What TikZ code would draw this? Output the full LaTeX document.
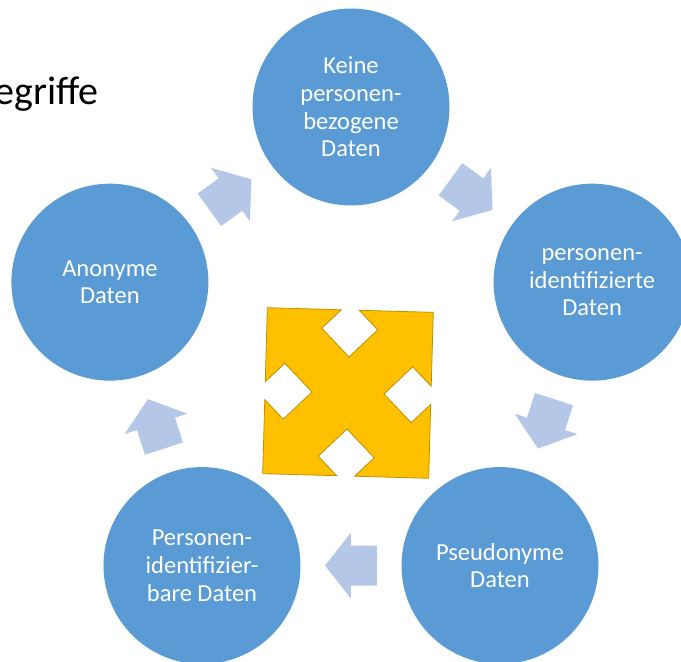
\documentclass[tikz,border=0pt]{standalone}
\usepackage{fontspec}
\setmainfont{Carlito}
\usetikzlibrary{calc}
\definecolor{cycBlue}{HTML}{5B9BD5}
\definecolor{cycArrow}{HTML}{B4C7E7}
\definecolor{crossGold}{HTML}{FFC000}
\definecolor{crossEdge}{HTML}{BF9000}
\tikzset{
  stagecircle/.style={circle, fill=cycBlue, minimum size=197pt, inner sep=0pt, text=white, align=center, font=\fontsize{24.5}{27.7}\selectfont},
  cyclearr/.pic={\fill[cycArrow] (-26,-20) -- (0,-20) -- (0,-33) -- (26,0) -- (0,33) -- (0,20) -- (-26,20) -- cycle;},
}

\begin{document}
\begin{tikzpicture}[x=1pt, y=1pt]
    \useasboundingbox (-351,-301.5) rectangle (330,360.5);
    \clip (-351,-301.5) rectangle (330,360.5);
    \node[anchor=base east, inner sep=0pt, font=\fontsize{40}{48}\selectfont] (title) at (-252,255.5) {Begriffe};
    \node[stagecircle] (top) at (90:253.5) {Keine\\personen-\\bezogene\\Daten};
    \node[stagecircle] (rgt) at (18:253.5) {personen-\\identifizierte\\Daten};
    \node[stagecircle] (brt) at (-54:253.5) {Pseudonyme\\Daten};
    \node[stagecircle] (blt) at (-126:253.5) {Personen-\\identifizier-\\bare Daten};
    \node[stagecircle] (lft) at (162:253.5) {Anonyme\\Daten};
    % block arrows between the circles
    \foreach \from/\to/\ang in {lft/top/36, top/rgt/-36, rgt/brt/-108, brt/blt/180, blt/lft/108}
      \pic[rotate=\ang] at ($(\from)!0.5!(\to)$) {cyclearr};
    % yellow cross in the middle
    \begin{scope}[shift={(-3,-32.5)}, rotate=-1.6]
      \filldraw[fill=crossGold, draw=crossEdge, line width=0.8pt, line join=miter]
        (-83,83) -- (-9,83) -- (-28,64) -- (0,36) -- (28,64) -- (9,83) -- (83,83)
        -- (83,9) -- (64,28) -- (36,0) -- (64,-28) -- (83,-9) -- (83,-83)
        -- (9,-83) -- (28,-64) -- (0,-36) -- (-28,-64) -- (-9,-83) -- (-83,-83)
        -- (-83,-9) -- (-64,-28) -- (-36,0) -- (-64,28) -- (-83,9) -- cycle;
    \end{scope}
\end{tikzpicture}
\end{document}
